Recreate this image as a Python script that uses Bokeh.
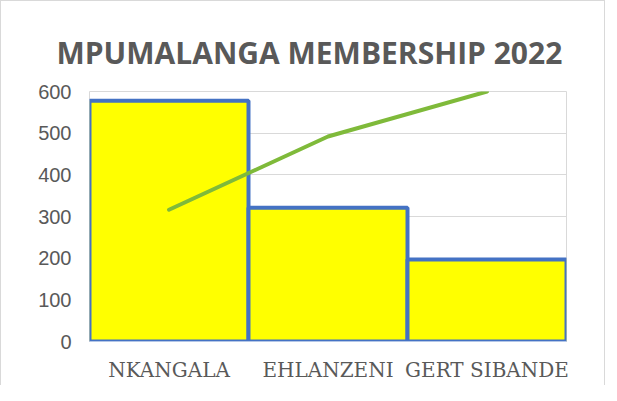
from bokeh.plotting import figure
from bokeh.models import FactorRange, Range1d, FixedTicker, ColumnDataSource
from bokeh.embed import file_html
from bokeh.resources import INLINE

districts = ["NKANGALA", "EHLANZENI", "GERT SIBANDE"]
members = [578, 321, 197]
cumulative_pct = [52.7, 82.0, 100.0]
y_ticks = [0, 100, 200, 300, 400, 500, 600]

src = ColumnDataSource(dict(x=districts, top=members, pct=cumulative_pct))

p = figure(x_range=FactorRange(*districts, range_padding=0), y_range=Range1d(0, 600),
           width=605, height=385, output_backend="svg", toolbar_location=None,
           min_border_left=88, min_border_right=40, min_border_bottom=45, min_border_top=90,
           title="MPUMALANGA MEMBERSHIP 2022")
p.styles = {"border-top": "1px solid #d9d9d9", "border-left": "1px solid #d9d9d9",
            "border-right": "1px solid #d9d9d9"}
p.extra_y_ranges = {"pct": Range1d(0, 100)}

p.title.text_font = "Open Sans"
p.title.text_font_style = "bold"
p.title.text_font_size = "30px"
p.title.text_color = "#595959"
p.title.align = "left"
p.title.offset = -33
p.title.standoff = 38

p.vbar(x="x", top="top", width=1.0, source=src, fill_color="#ffff00",
       line_color="#4472c4", line_width=4)
p.line(x="x", y="pct", source=src, y_range_name="pct", line_color="#7fba3a",
       line_width=4, line_cap="round")

p.outline_line_color = "#d9d9d9"
p.xgrid.grid_line_color = None
p.ygrid.grid_line_color = "#d9d9d9"
p.ygrid.ticker = FixedTicker(ticks=y_ticks)

p.yaxis.ticker = FixedTicker(ticks=y_ticks)
p.yaxis.axis_line_color = None
p.yaxis.major_tick_line_color = None
p.yaxis.major_tick_out = 0
p.yaxis.minor_tick_out = 0
p.yaxis.major_label_standoff = 18
p.yaxis.major_label_text_font = "Liberation Sans"
p.yaxis.major_label_text_font_size = "20px"
p.yaxis.major_label_text_color = "#595959"

p.xaxis.axis_line_color = "#b4c7e7"
p.xaxis.major_tick_line_color = None
p.xaxis.major_tick_out = 0
p.xaxis.major_label_standoff = 16
p.xaxis.major_label_text_font = "DejaVu Serif"
p.xaxis.major_label_text_font_size = "20px"
p.xaxis.major_label_text_color = "#595959"

open("out.html", "w").write(file_html(p, INLINE))
